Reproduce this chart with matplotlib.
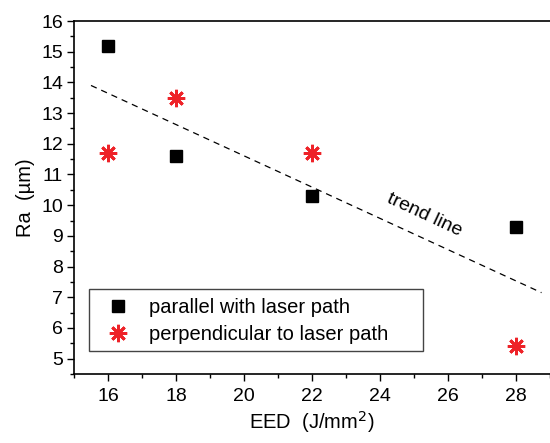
import matplotlib
matplotlib.use("Agg")
import matplotlib.pyplot as plt
from matplotlib.ticker import MultipleLocator
from matplotlib.patches import Rectangle

plt.rcParams['font.family'] = ['Liberation Sans', 'DejaVu Sans']

eed = [16, 18, 22, 28]
ra_parallel = [15.2, 11.6, 10.3, 9.3]
ra_perp = [11.7, 13.5, 11.7, 5.4]
trend_x = [15.5, 28.75]
trend_y = [13.9, 7.15]
xticks = [16, 18, 20, 22, 24, 26, 28]
yticks = [5, 6, 7, 8, 9, 10, 11, 12, 13, 14, 15, 16]

fig = plt.figure(figsize=(5.5, 4.43), dpi=100)
ax = fig.add_axes([74/550, 1-374/443, 1-74/550, (374-21)/443])

ax.plot(trend_x, trend_y, linestyle=(0, (5, 4)), color='black', linewidth=0.9)
ax.plot(eed, ra_parallel, linestyle='none', marker='s', markersize=8,
        color='black', label='parallel with laser path')
ax.plot(eed, ra_perp, linestyle='none', marker=(8, 2, 0), markersize=12.5,
        markeredgewidth=2.0, color='#ee2228', label='perpendicular to laser path')

ax.text(25.3, 9.68, 'trend line', rotation=-25, ha='center', va='center',
        fontsize=14)

ax.set_xlim(15, 29)
ax.set_ylim(4.5, 16)
ax.set_xticks(xticks)
ax.set_yticks(yticks)
ax.xaxis.set_minor_locator(MultipleLocator(1))
ax.yaxis.set_minor_locator(MultipleLocator(0.5))
ax.tick_params(axis='both', which='major', direction='out', length=5, width=1,
               labelsize=14)
ax.tick_params(axis='x', which='major', pad=5)
ax.tick_params(axis='y', which='major', pad=3)
ax.tick_params(axis='both', which='minor', direction='out', length=3, width=1)
ax.tick_params(top=False, right=False)
for s in ['left', 'bottom', 'top']:
    ax.spines[s].set_linewidth(1.2)
ax.spines['right'].set_visible(False)

ax.set_xlabel('EED  (J/mm$^2$)', fontsize=14.5, labelpad=3)
ax.set_ylabel('Ra  (µm)', fontsize=14.5, labelpad=4)

# legend frame drawn separately
bx0, bx1 = (89-74)/476, (423-74)/476
by0, by1 = (374-351)/353, (374-289)/353
ax.add_patch(Rectangle((bx0, by0), bx1-bx0, by1-by0, transform=ax.transAxes,
                       facecolor='white', edgecolor='#444444', linewidth=1.0,
                       zorder=4))
leg = ax.legend(loc='upper left', bbox_to_anchor=(bx0, by1),
                frameon=False, fontsize=14.5,
                handletextpad=0.55, borderpad=0.45, labelspacing=0.38,
                handlelength=2.0, borderaxespad=0)
leg.set_zorder(5)

fig.savefig('out.png', dpi=100)
